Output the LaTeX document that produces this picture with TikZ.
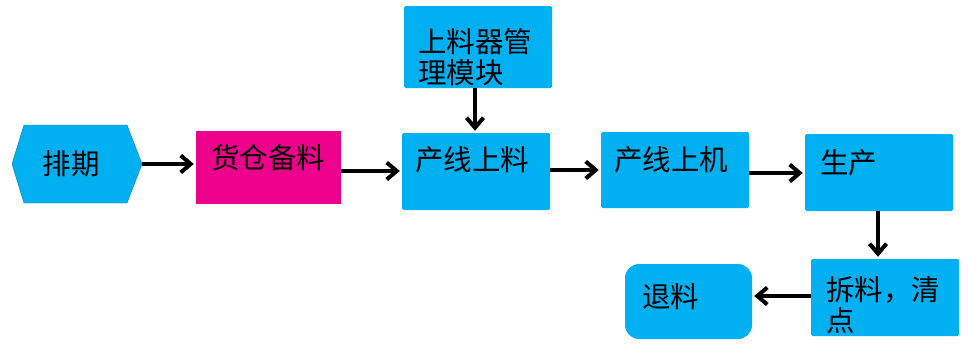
\documentclass[tikz,border=0pt]{standalone}
\usepackage{fontspec}
\setmainfont{Noto Sans CJK SC}
\usetikzlibrary{arrows.meta}
\definecolor{boxblue}{HTML}{00B0F0}
\definecolor{boxmag}{HTML}{EC008C}
\begin{document}
\begin{tikzpicture}[x=1pt,y=-1pt,
  box/.style={fill=boxblue,draw=none,rounded corners=1.5pt,minimum width=#1,inner sep=0pt},
  lbl/.style={anchor=west,inner sep=0pt,align=left,font=\fontsize{28.5}{31}\selectfont},
  conn/.style={line width=4pt,-{Straight Barb[length=10pt,width=17pt,line width=4pt]},shorten >=2pt}]
\useasboundingbox (0,0) rectangle (969,348);
\fill[white] (0,0) rectangle (969,348);
% hexagon
\fill[boxblue,draw=boxblue!70!black,line width=0.4pt] (12,164) -- (24,125) -- (127,125) -- (142,164) -- (127,203) -- (24,203) -- cycle;
\node[inner sep=0pt,minimum width=130pt,minimum height=78pt,font=\fontsize{28.5}{31}\selectfont] (pq) at (71,164) {排期};
% boxes
\node[box=145pt,fill=boxmag,rounded corners=0pt,minimum height=73pt] (hc) at (268.5,167.5) {};
\node[box=148pt,minimum height=82pt] (sl) at (478,47) {};
\node[box=148pt,minimum height=77pt] (xl) at (476,171.5) {};
\node[box=148pt,minimum height=76pt] (xj) at (675,170) {};
\node[box=148pt,minimum height=77pt] (sc) at (879,172.5) {};
\node[box=148pt,minimum height=77pt] (cl) at (885,297.5) {};
\node[box=127pt,minimum height=75pt,rounded corners=14pt] (tl) at (688.5,301.5) {};
% labels
\node[lbl] (thc) at (211,158) {货仓备料};
\node[lbl] (tsl) at (418,57.5) {上料器管\\理模块};
\node[lbl] (txl) at (415,160) {产线上料};
\node[lbl] (txj) at (614,160) {产线上机};
\node[lbl] (tsc) at (820,163) {生产};
\node[lbl] (tcl) at (826,305.5) {拆料，清\\点};
\node[lbl] (ttl) at (642,297) {退料};
% connectors
\draw[conn] (142,164) -- (hc.west |- 0,164);
\draw[conn] (hc.east |- 0,171) -- (xl.west |- 0,171);
\draw[conn] (sl.south -| 475,0) -- (xl.north -| 475,0);
\draw[conn] (xl.east |- 0,170) -- (xj.west |- 0,170);
\draw[conn] (xj.east |- 0,173) -- (sc.west |- 0,173);
\draw[conn] (sc.south -| 878,0) -- (cl.north -| 878,0);
\draw[conn] (cl.west |- 0,296) -- (tl.east |- 0,296);
\end{tikzpicture}
\end{document}
